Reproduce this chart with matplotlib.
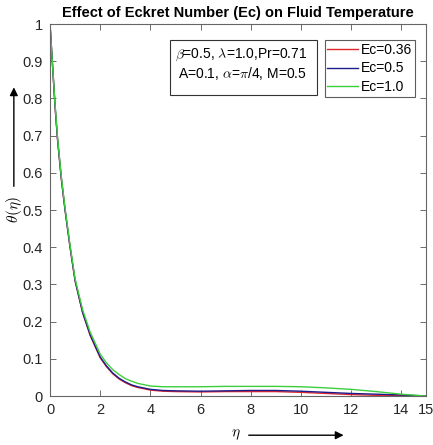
import numpy as np
import matplotlib
matplotlib.use('Agg')
import matplotlib.pyplot as plt
from matplotlib.patches import Rectangle, FancyArrowPatch

plt.rcParams['font.family'] = ['Liberation Sans', 'DejaVu Sans']
plt.rcParams['mathtext.fontset'] = 'cm'

# values
eta = [0, 0.1, 0.2, 0.3, 0.45, 0.6, 0.8, 1.0, 1.3, 1.6, 2.0, 2.25, 2.5, 2.75, 3.0,
       3.25, 3.5, 4.0, 4.5, 5, 6, 7, 8, 9, 10, 11, 12, 13, 14, 15]
theta_036 = [1.0, 0.89, 0.78, 0.69, 0.585, 0.50, 0.40, 0.31, 0.224, 0.163, 0.103,
             0.079, 0.060, 0.046, 0.036, 0.028, 0.023, 0.016, 0.013, 0.012, 0.011,
             0.012, 0.012, 0.012, 0.010, 0.007, 0.004, 0.002, 0.001, 0.0]
theta_05 = [1.0, 0.89, 0.78, 0.69, 0.585, 0.50, 0.40, 0.31, 0.225, 0.165, 0.105,
            0.081, 0.062, 0.048, 0.038, 0.030, 0.025, 0.018, 0.015, 0.014, 0.013,
            0.014, 0.015, 0.015, 0.013, 0.010, 0.007, 0.005, 0.003, 0.0]
theta_10 = [1.0, 0.89, 0.785, 0.695, 0.59, 0.505, 0.405, 0.315, 0.232, 0.172, 0.113,
            0.089, 0.071, 0.058, 0.047, 0.040, 0.034, 0.027, 0.025, 0.025, 0.025,
            0.026, 0.026, 0.026, 0.025, 0.022, 0.018, 0.012, 0.005, 0.0]
labels = ['Ec=0.36', 'Ec=0.5', 'Ec=1.0']
colors = ['#e0262b', '#1c1c8a', '#3ccf3c']

fig = plt.figure(figsize=(4.33, 4.45), dpi=100)
ax = fig.add_axes([0.1155, 0.11, 0.869, 0.836])

for y, lab, c in zip([theta_036, theta_05, theta_10], labels, colors):
    ax.plot(eta, y, color=c, lw=1.0, label=lab)

ax.set_xlim(0, 15)
ax.set_ylim(0, 1)
ax.set_xticks([0, 2, 4, 6, 8, 10, 12, 14, 15])
ax.set_yticks(np.arange(0, 1.01, 0.1))
ax.set_yticklabels(['0', '0.1', '0.2', '0.3', '0.4', '0.5', '0.6', '0.7', '0.8', '0.9', '1'])
ax.tick_params(direction='in', top=True, right=True, length=4, width=0.6,
               colors='#555555', labelcolor='#262626', labelsize=10.5, pad=5)
for s in ax.spines.values():
    s.set_color('#666666')
    s.set_linewidth(0.8)

ax.set_title('Effect of Eckret Number (Ec) on Fluid Temperature',
             fontsize=10.5, fontweight='bold', pad=5)

# parameter box
ax.add_patch(Rectangle((0.319, 0.809), 0.391, 0.148, transform=ax.transAxes,
                       fc='white', ec='#333333', lw=0.8, zorder=4))
ax.text(0.332, 0.917, r'$\beta$=0.5, $\lambda$=1.0,Pr=0.71',
        transform=ax.transAxes, fontsize=10, va='center', ha='left', zorder=5)
ax.text(0.340, 0.868, r'A=0.1, $\alpha$=$\pi$/4, M=0.5',
        transform=ax.transAxes, fontsize=10, va='center', ha='left', zorder=5)

leg = ax.legend(loc='upper right', bbox_to_anchor=(0.971, 0.957), fontsize=10,
                frameon=True, fancybox=False, edgecolor='#333333', handlelength=2.2,
                handletextpad=0.25, borderpad=0.2, labelspacing=0.33,
                borderaxespad=0)
leg.get_frame().set_linewidth(0.8)

# axis labels with arrows
fig.text(0.032, 0.530, r'$\theta(\eta)$', rotation=90, fontsize=11,
         ha='center', va='center')
fig.add_artist(FancyArrowPatch(
    (0.032, 0.575), (0.032, 0.81), transform=fig.transFigure,
    arrowstyle='-|>', mutation_scale=12, color='black', lw=1.0))
fig.text(0.545, 0.022, r'$\eta$', fontsize=11, ha='center', va='center')
fig.add_artist(FancyArrowPatch(
    (0.568, 0.022), (0.80, 0.022), transform=fig.transFigure,
    arrowstyle='-|>', mutation_scale=12, color='black', lw=1.0))

fig.savefig('out.png', dpi=100)
